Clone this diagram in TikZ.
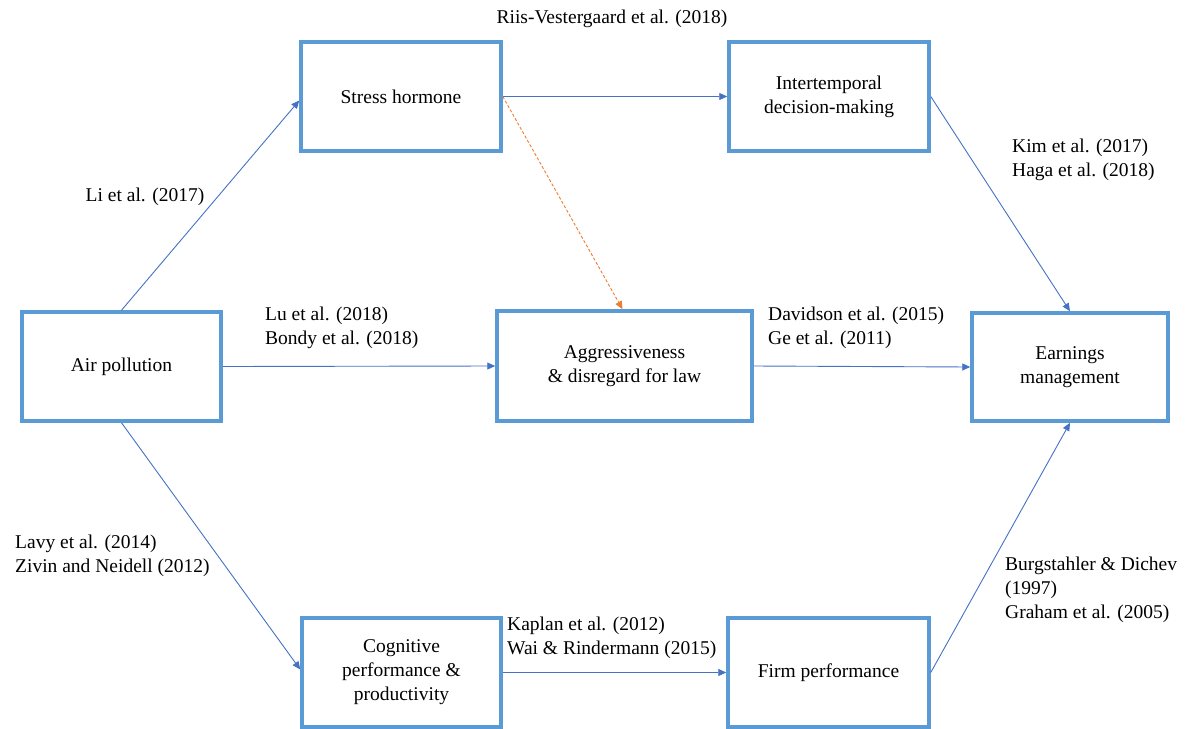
\documentclass[tikz,border=0pt]{standalone}
\usepackage{fontspec}
\setmainfont{LiberationSerif}[Extension=.ttf,UprightFont=*-Regular,BoldFont=*-Bold]
\usetikzlibrary{arrows.meta}
\definecolor{boxblue}{HTML}{5B9BD5}
\definecolor{arrblue}{HTML}{4472C4}
\definecolor{arrorange}{HTML}{ED7D31}
\begin{document}
\begin{tikzpicture}[x=1pt,y=-1pt,
  box/.style={draw=boxblue,line width=3.5pt,fill=white,inner sep=0pt,align=center,
    font=\fontsize{19.5}{24}\selectfont},
  lbl/.style={inner sep=0pt,align=left,font=\fontsize{19.5}{24}\selectfont},
  conn/.style={draw=arrblue,line width=0.9pt,-{Triangle[length=8pt,width=7pt]}},
  dconn/.style={draw=arrorange,line width=0.9pt,dash pattern=on 3pt off 2pt,-{Triangle[length=8pt,width=7pt]}}
]
\useasboundingbox (0,0) rectangle (1188,728);
\node[box,minimum width=199pt,minimum height=109pt] (air) at (121.5,366.5) {Air pollution};
\node[box,minimum width=200pt,minimum height=109pt] (stress) at (401,96.5) {Stress hormone};
\node[box,minimum width=200pt,minimum height=109pt] (inter) at (829,96.5) {Intertemporal\\decision-making};
\node[box,minimum width=255pt,minimum height=110pt] (agg) at (624.5,366) {Aggressiveness\\\& disregard for law};
\node[box,minimum width=196pt,minimum height=108pt] (earn) at (1070,367) {Earnings\\management};
\node[box,minimum width=199pt,minimum height=109pt] (cog) at (401.5,672.5) {Cognitive\\performance \&\\productivity};
\node[box,minimum width=201pt,minimum height=109pt] (firm) at (828.5,672.5) {Firm performance};

\draw[conn] (air.north) -- ([yshift=-4pt]stress.west);
\draw[conn] (stress.east) -- (inter.west);
\draw[dconn] (stress.east) -- ([xshift=-2pt]agg.north);
\draw[conn] (air.east) -- (agg.west);
\draw[conn] (agg.east) -- (earn.west);
\draw[conn] (inter.east) -- (earn.north);
\draw[conn] (air.south) -- ([yshift=3pt]cog.west);
\draw[conn] (cog.east) -- (firm.west);
\draw[conn] (firm.east) -- (earn.south);

\node[lbl] (l1) at (612,19) {Riis-Vestergaard et al. (2018)};
\node[lbl] (l2) at (145,197) {Li et al. (2017)};
\node[lbl,anchor=west] (l3) at (265,328) {Lu et al. (2018)\\Bondy et al. (2018)};
\node[lbl,anchor=west] (l4) at (768,328) {Davidson et al. (2015)\\Ge et al. (2011)};
\node[lbl,anchor=west] (l5) at (1012,160) {Kim et al. (2017)\\Haga et al. (2018)};
\node[lbl,anchor=west] (l6) at (15,556) {Lavy et al. (2014)\\Zivin and Neidell (2012)};
\node[lbl,anchor=west] (l7) at (1005,590) {Burgstahler \& Dichev\\(1997)\\Graham et al. (2005)};
\node[lbl,anchor=west] (l8) at (507,638) {Kaplan et al. (2012)\\Wai \& Rindermann (2015)};
\end{tikzpicture}
\end{document}
